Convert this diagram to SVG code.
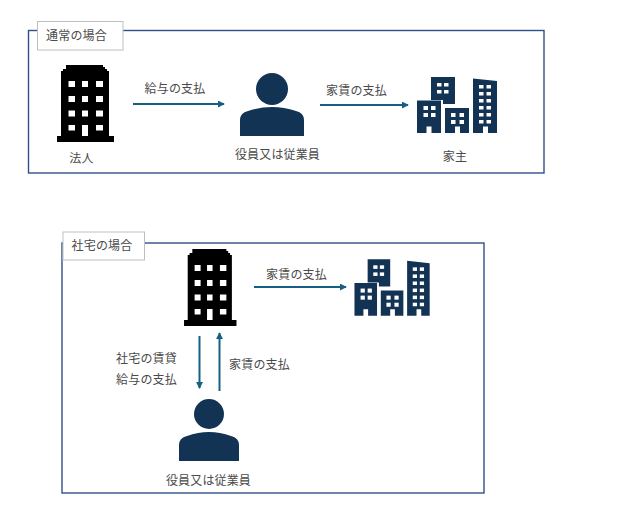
<svg xmlns="http://www.w3.org/2000/svg" width="629" height="526" viewBox="0 0 629 526">
<style>
text{font-family:"Noto Sans CJK JP","Noto Sans CJK SC",sans-serif;font-size:12px;letter-spacing:.15px;fill:#4a4a4a;text-anchor:middle}
.frame{fill:none;stroke:#2f5088;stroke-width:1.4}
.tag{fill:#fff;stroke:#bfbfbf;stroke-width:1}
.conn{fill:none;stroke:#156082;stroke-width:2}
.navy{fill:#133355}
.win{fill:#fff}
</style>
<defs>
<marker id="ah" viewBox="0 0 8 8" refX="7" refY="4" markerWidth="3.500" markerHeight="3.500" orient="auto" markerUnits="strokeWidth"><path d="M0 0L8 4L0 8Z" fill="#156082"/></marker>
<g id="tower">
<path fill="#000" d="M66 65H103V67H105V69H107V71H109V136H114V142H57V136H61V71H63V69H66Z"/>
<g class="win">
<rect x="68.500" y="81" width="6.500" height="6"/><rect x="82" y="81" width="6" height="6"/><rect x="96" y="81" width="7" height="6"/>
<rect x="68.500" y="96" width="6.500" height="6"/><rect x="82" y="96" width="6" height="6"/><rect x="96" y="96" width="7" height="6"/>
<rect x="68.500" y="110.500" width="6.500" height="6"/><rect x="82" y="110.500" width="6" height="6"/><rect x="96" y="110.500" width="7" height="6"/>
<rect x="68.500" y="125" width="6.500" height="5.500"/><rect x="82" y="125" width="6" height="11"/><rect x="96" y="125" width="7" height="5.500"/>
</g>
</g>
<g id="city">
<path class="navy" d="M431 77H455V104H443V100H431Z"/>
<path class="navy" d="M417 100.500H441V133H431.500V126.500H426.500V133H417Z"/>
<path class="navy" d="M445 108H469V133H460V126.500H455V133H445Z"/>
<path class="navy" d="M473 78.500L497 81V133H488V126.500H483V133H473Z"/>
<g class="win">
<rect x="437" y="83" width="4.500" height="3.500"/><rect x="444" y="83" width="4.500" height="3.500"/><rect x="437" y="90" width="4.500" height="3.500"/><rect x="444" y="90" width="4.500" height="3.500"/>
<rect x="423.500" y="106" width="4.500" height="4"/><rect x="431" y="106" width="4.500" height="4"/><rect x="423.500" y="113" width="4.500" height="4"/><rect x="431" y="113" width="4.500" height="4"/>
<rect x="451" y="113" width="4.500" height="4"/><rect x="459.500" y="113" width="4.500" height="4"/><rect x="451" y="120" width="4.500" height="4"/><rect x="459.500" y="120" width="4.500" height="4"/>
<rect x="479" y="85" width="4.500" height="3.500"/><rect x="486.500" y="85" width="4.500" height="3.500"/><rect x="479" y="92" width="4.500" height="3.500"/><rect x="486.500" y="92" width="4.500" height="3.500"/>
<rect x="479" y="99" width="4.500" height="3.500"/><rect x="486.500" y="99" width="4.500" height="3.500"/><rect x="479" y="106" width="4.500" height="3.500"/><rect x="486.500" y="106" width="4.500" height="3.500"/>
<rect x="479" y="113" width="4.500" height="3.500"/><rect x="486.500" y="113" width="4.500" height="3.500"/><rect x="479" y="120" width="4.500" height="3.500"/><rect x="486.500" y="120" width="4.500" height="3.500"/>
</g>
</g>
</defs>
<g id="frame-normal">
<rect class="frame" x="28.500" y="30.500" width="515.500" height="142.500"/>
<rect class="tag" x="37.500" y="21.500" width="85.500" height="28.500"/>
<text x="76.500" y="40">通常の場合</text>
</g>
<g id="frame-company">
<rect class="frame" x="62" y="243" width="422" height="250"/>
<rect class="tag" x="63" y="232" width="81.500" height="28"/>
<text x="102" y="250">社宅の場合</text>
</g>
<g id="connectors">
<path class="conn" marker-end="url(#ah)" d="M133 104H224"/>
<path class="conn" marker-end="url(#ah)" d="M320 105H408"/>
<path class="conn" marker-end="url(#ah)" d="M254 287H346"/>
<path class="conn" marker-end="url(#ah)" d="M199.500 336V388"/>
<path class="conn" marker-end="url(#ah)" d="M219.500 391V333"/>
</g>
<g id="edge-labels">
<text x="175" y="93">給与の支払</text>
<text x="356.500" y="95">家賃の支払</text>
<text x="296.500" y="279">家賃の支払</text>
<text x="146.500" y="363">社宅の賃貸</text>
<text x="146.500" y="384">給与の支払</text>
<text x="259.500" y="369">家賃の支払</text>
</g>
<g id="corp-1"><use href="#tower"/><text x="81.500" y="163">法人</text></g>
<g id="employee-1">
<circle class="navy" cx="272" cy="89" r="16"/>
<path class="navy" d="M240 136V120Q240 113 248 111Q260 107 272 107Q284 107 296 111Q304 113 304 120V136Z"/>
<text x="277.500" y="159">役員又は従業員</text>
</g>
<g id="landlord-1"><use href="#city"/><text x="455" y="161">家主</text></g>
<g id="corp-2"><use href="#tower" transform="translate(131.600 184) scale(.92 1)"/></g>
<g id="employee-2">
<circle class="navy" cx="209" cy="414" r="15"/>
<path class="navy" d="M179 461V445Q179 438 187 436Q198 432 209 432Q220 432 231 436Q239 438 239 445V461Z"/>
<text x="208.500" y="485">役員又は従業員</text>
</g>
<g id="landlord-2"><use href="#city" transform="translate(-37.500 181.500) scale(.94 1.01)"/></g>
</svg>
